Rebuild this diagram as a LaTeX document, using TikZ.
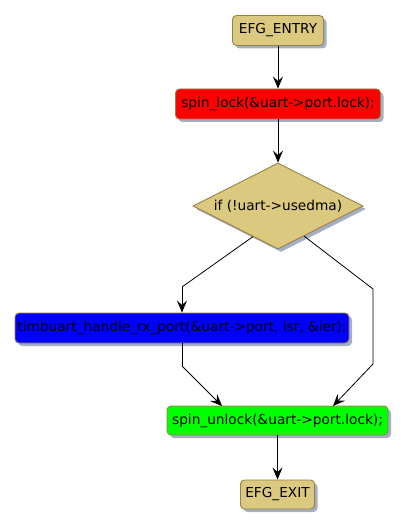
\documentclass[tikz,border=0pt]{standalone}
\usepackage{fontspec}
\setmainfont{DejaVu Sans}
\usetikzlibrary{shapes.geometric,shadows,arrows.meta,calc}
\definecolor{tan}{RGB}{219,201,127}
\definecolor{bord}{RGB}{150,130,70}
\definecolor{shad}{RGB}{165,175,195}
\tikzset{
  base/.style={draw=bord, line width=0.9pt, rounded corners=4pt, inner sep=0pt,
    font=\fontsize{13.7}{16}\selectfont, text=black,
    drop shadow={shadow xshift=3pt, shadow yshift=-3pt, fill=shad, opacity=1}},
  cond/.style={diamond, draw=bord, fill=tan, line width=0.9pt, inner sep=0pt,
    minimum width=170pt, minimum height=86pt, aspect=2,
    font=\fontsize{13.7}{16}\selectfont,
    drop shadow={shadow xshift=3pt, shadow yshift=-3pt, fill=shad, opacity=1}},
  arr/.style={-{Stealth[length=12pt,width=10pt,inset=4.5pt]}, line width=0.8pt, black},
  ln/.style={line width=0.8pt, black}
}
\begin{document}
\begin{tikzpicture}[x=1pt,y=-1pt]
\useasboundingbox (0,0) rectangle (407,529);
\node[base, fill=tan, minimum width=91pt, minimum height=30pt] (entry) at (278,30.5) {EFG\_ENTRY};
\node[base, fill=red, minimum width=205pt, minimum height=30pt] (lock) at (278,104) {spin\_lock(\&uart->port.lock);};
\node[cond] (if) at (278,206) {if (!uart->usedma)};
\node[base, fill=blue, minimum width=334pt, minimum height=30pt] (rx) at (182,328) {timbuart\_handle\_rx\_port(\&uart->port, isr, \&ier);};
\node[base, fill=green, minimum width=221pt, minimum height=29pt] (unlock) at (277.5,420.5) {spin\_unlock(\&uart->port.lock);};
\node[base, fill=tan, minimum width=74pt, minimum height=29pt] (exit) at (277.5,494.5) {EFG\_EXIT};

\coordinate (ifl) at ($(if.west)!0.706!(if.south)$);
\coordinate (ifr) at ($(if.south)!0.306!(if.east)$);
\coordinate (bl) at (182,287);
\coordinate (br) at (373,289);
\coordinate (br2) at (373,364);
\coordinate (rxb) at (182,366);
\coordinate (ul) at (222,406);
\coordinate (ur) at (333,406);

\draw[arr] (entry) -- (lock);
\draw[arr] (lock) -- (if.north);
\draw[ln] (ifl) -- (bl);
\draw[arr] (bl) -- (rx.north -| bl);
\draw[ln] (ifr) -- (br) -- (br2);
\draw[arr] (br2) -- (ur);
\draw[ln] (rx.south -| rxb) -- (rxb);
\draw[arr] (rxb) -- (ul);
\draw[arr] (unlock) -- (exit);
\end{tikzpicture}
\end{document}
